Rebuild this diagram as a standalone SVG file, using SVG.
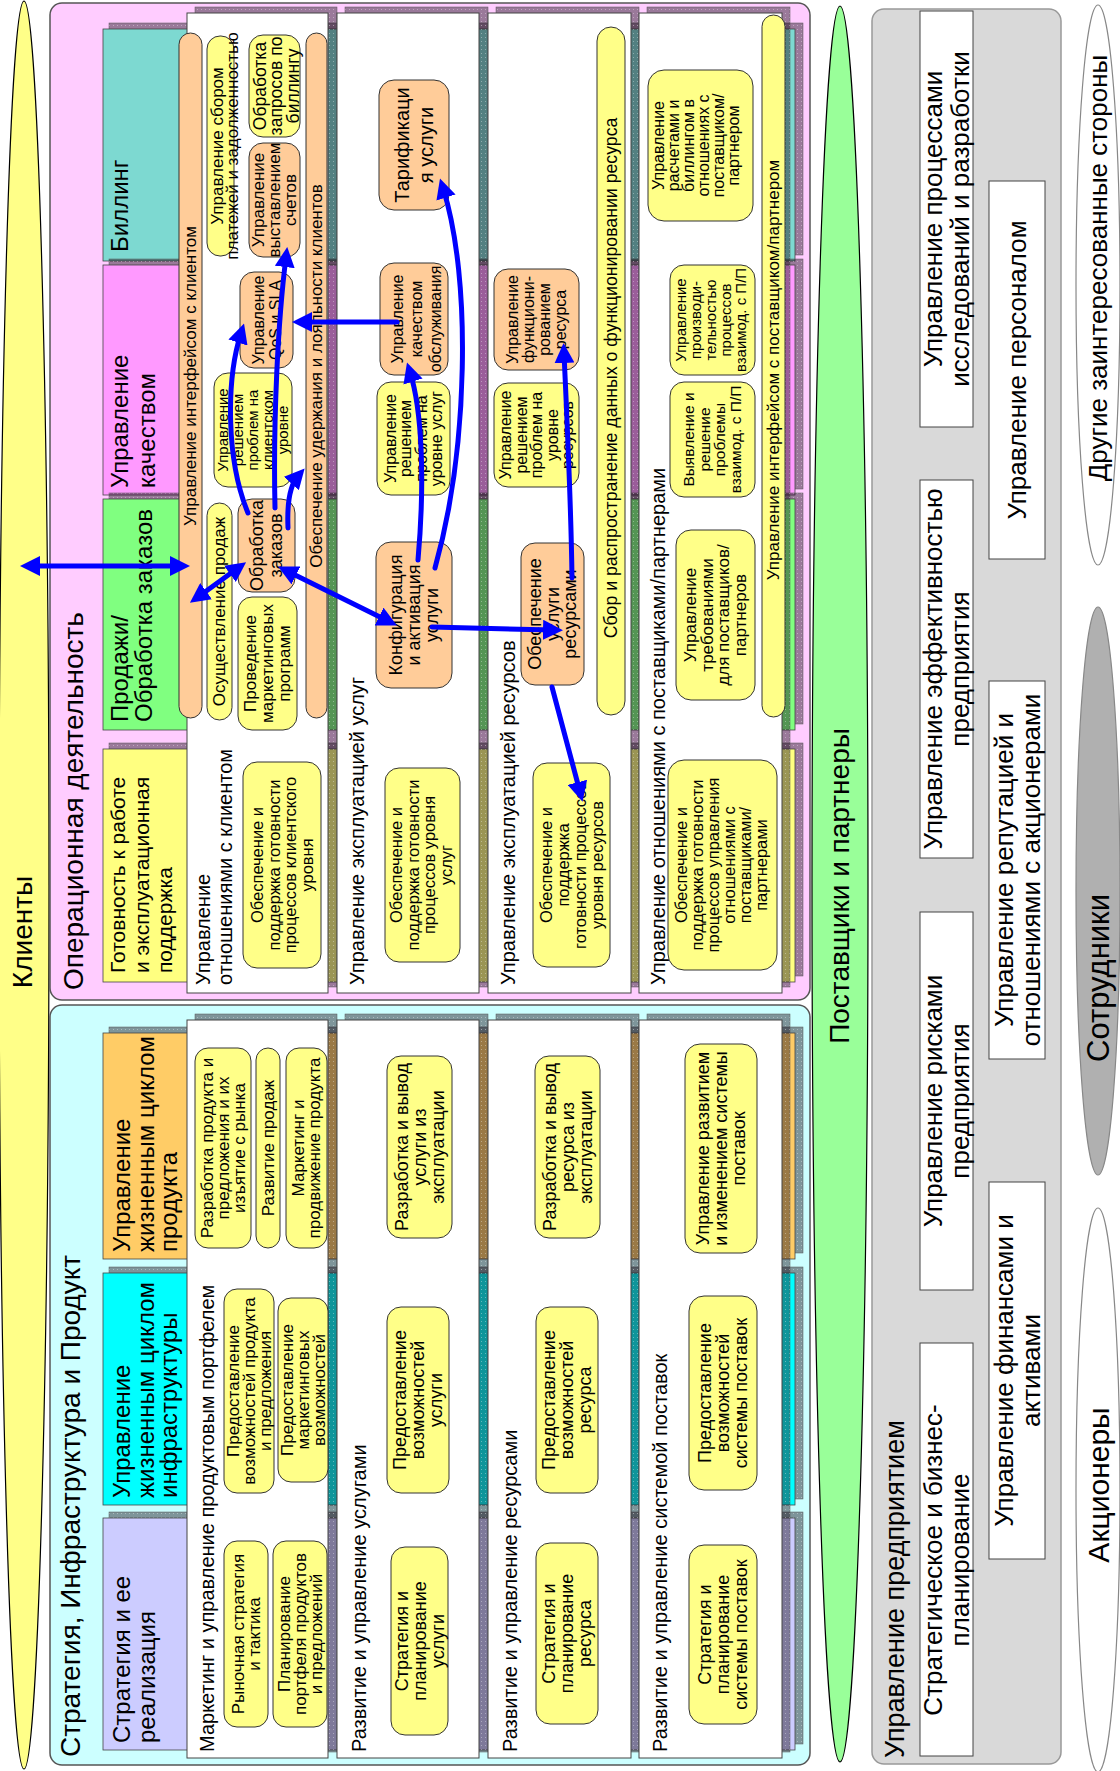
<svg xmlns="http://www.w3.org/2000/svg" width="1120" height="1771" viewBox="0 0 1120 1771">
<style>
.t{font-family:"Liberation Sans",Arial,sans-serif;fill:#000}
.m{text-anchor:middle}
.y{fill:#ffff88;stroke:#333;stroke-width:1}
.o{fill:#ffcc99;stroke:#333;stroke-width:1}
.col{fill:#fff;stroke:#444;stroke-width:1}
.sh{fill:url(#hatch);stroke:#555;stroke-width:.5}
.band{stroke:#444;stroke-width:.8}
.eb{fill:#fff;stroke:#444;stroke-width:1}
.arr{fill:none;stroke:#0000ff;stroke-width:5;stroke-linecap:round;marker-end:url(#ah)}
.both{marker-start:url(#ah)}
</style>
<defs>
<pattern id="hatch" width="4" height="4" patternUnits="userSpaceOnUse">
<rect width="4" height="4" fill="#1e141e" fill-opacity="0.45"/>
<rect x="1" y="1" width="1" height="1" fill="#fff" fill-opacity="0.35"/>
</pattern>
<marker id="ah" viewBox="0 0 20 20" refX="10" refY="10" markerWidth="20" markerHeight="20" markerUnits="userSpaceOnUse" orient="auto-start-reverse">
<path d="M0,0 L20,10 L0,20 z" fill="#0000ff"/>
</marker>
</defs>

<!-- outer actors -->
<g id="clients">
<ellipse cx="24" cy="885" rx="25" ry="884" fill="#ffff88" stroke="#000" stroke-width="1.2"/>
<text class="t m" font-size="28" transform="translate(22,932) rotate(-90)" dy="0.35em">Клиенты</text>
</g>
<g id="suppliers">
<ellipse cx="840" cy="884" rx="28" ry="878" fill="#99ff99" stroke="#000" stroke-width="1.2"/>
<text class="t m" font-size="28" transform="translate(839,886) rotate(-90)" dy="0.35em">Поставщики и партнеры</text>
</g>

<!-- operations area -->
<g id="operations">
<rect x="50" y="3" width="760" height="997" rx="12" fill="#ffccff" stroke="#555" stroke-width="1.5"/>
<text class="t" font-size="28" transform="translate(83,990) rotate(-90)">Операционная деятельность</text>

<g id="band-billing">
<rect class="sh" x="109" y="23" width="694" height="232"/>
<rect class="band" x="103" y="29" width="692" height="232" fill="#7dd9d1"/>
<text class="t" font-size="24" transform="translate(128.4,252) rotate(-90)">Биллинг</text>
</g>
<g id="band-assurance">
<rect class="sh" x="109" y="259" width="694" height="230"/>
<rect class="band" x="103" y="265" width="692" height="230" fill="#ff99ff"/>
<text class="t" font-size="24" transform="translate(128.4,488) rotate(-90)">Управление</text>
<text class="t" font-size="24" transform="translate(155.4,488) rotate(-90)">качеством</text>
</g>
<g id="band-fulfillment">
<rect class="sh" x="109" y="493" width="694" height="231"/>
<rect class="band" x="103" y="499" width="692" height="231" fill="#80ff80"/>
<text class="t" font-size="24" transform="translate(128.4,722) rotate(-90)">Продажи/</text>
<text class="t" font-size="24" transform="translate(152.4,722) rotate(-90)">Обработка заказов</text>
</g>
<g id="band-readiness">
<rect class="sh" x="109" y="743" width="694" height="233"/>
<rect class="band" x="103" y="749" width="692" height="233" fill="#ffff80"/>
<text class="t" font-size="21" transform="translate(125.4,973) rotate(-90)">Готовность к работе</text>
<text class="t" font-size="21" transform="translate(149.4,973) rotate(-90)">и эксплуатационная</text>
<text class="t" font-size="21" transform="translate(172.4,973) rotate(-90)">поддержка</text>
</g>

<!-- layer columns -->
<rect class="sh" x="195" y="7" width="142" height="980"/>
<rect class="col" x="187" y="13" width="141" height="980"/>
<rect class="sh" x="345" y="7" width="143" height="980"/>
<rect class="col" x="337" y="13" width="142" height="980"/>
<rect class="sh" x="496" y="7" width="143" height="980"/>
<rect class="col" x="488" y="13" width="143" height="980"/>
<rect class="sh" x="647" y="7" width="143" height="980"/>
<rect class="col" x="639" y="13" width="143" height="980"/>

<!-- customer layer -->
<text class="t" font-size="20" transform="translate(210,985) rotate(-90)">Управление</text>
<text class="t" font-size="20" transform="translate(232,985) rotate(-90)">отношениями с клиентом</text>
<g id="cust-interface">
<rect class="o" x="179" y="33" width="23" height="685" rx="11.5"/>
<text class="t m" font-size="17" transform="translate(190.5,376) rotate(-90)" y="5.95">Управление интерфейсом с клиентом</text>
</g>
<g id="cust-retention">
<rect class="o" x="306" y="33" width="21" height="685" rx="10.5"/>
<text class="t m" font-size="17" transform="translate(316.5,376) rotate(-90)" y="5.95">Обеспечение удержания и лояльности клиентов</text>
</g>
<g id="cust-collections">
<rect class="y" x="207" y="36" width="27" height="220" rx="13"/>
<text class="t m" font-size="17" transform="translate(224.5,146) rotate(-90)"><tspan x="0" y="-1.55">Управление сбором</tspan><tspan x="0" y="13.45">платежей и задолженностью</tspan></text>
</g>
<g id="cust-bill-inquiry">
<rect class="y" x="249" y="35" width="51" height="102" rx="14"/>
<text class="t m" font-size="17.5" transform="translate(276,86) rotate(-90)"><tspan x="0" y="-10.4">Обработка</tspan><tspan x="0" y="6.1">запросов по</tspan><tspan x="0" y="22.6">биллингу</tspan></text>
</g>
<g id="cust-invoicing">
<rect class="o" x="249" y="143" width="51" height="114" rx="14"/>
<text class="t m" font-size="17" transform="translate(274,200) rotate(-90)"><tspan x="0" y="-10.05">Управление</tspan><tspan x="0" y="5.95">выставлением</tspan><tspan x="0" y="21.95">счетов</tspan></text>
</g>
<g id="cust-qos">
<rect class="o" x="240" y="272" width="53" height="96" rx="14"/>
<text class="t m" font-size="16" transform="translate(266.5,320) rotate(-90)"><tspan x="0" y="-2.9">Управление</tspan><tspan x="0" y="14.1">QoS и SLA</tspan></text>
</g>
<g id="cust-problem">
<rect class="y" x="214" y="373" width="78" height="114" rx="14"/>
<text class="t m" font-size="15" transform="translate(253,430) rotate(-90)"><tspan x="0" y="-24.75">Управление</tspan><tspan x="0" y="-9.75">решением</tspan><tspan x="0" y="5.25">проблем на</tspan><tspan x="0" y="20.25">клиентском</tspan><tspan x="0" y="35.25">уровне</tspan></text>
</g>
<g id="cust-selling">
<rect class="y" x="207" y="503" width="25" height="217" rx="12.5"/>
<text class="t m" font-size="17" transform="translate(219.5,611.5) rotate(-90)" y="5.95">Осуществление продаж</text>
</g>
<g id="cust-order">
<rect class="o" x="238" y="499" width="57" height="93" rx="14"/>
<text class="t m" font-size="18" transform="translate(266.5,545.5) rotate(-90)"><tspan x="0" y="-3.2">Обработка</tspan><tspan x="0" y="15.8">заказов</tspan></text>
</g>
<g id="cust-marketing">
<rect class="y" x="238" y="597" width="59" height="133" rx="14"/>
<text class="t m" font-size="17" transform="translate(267.5,663.5) rotate(-90)"><tspan x="0" y="-11.05">Проведение</tspan><tspan x="0" y="5.95">маркетинговых</tspan><tspan x="0" y="22.95">программ</tspan></text>
</g>
<g id="cust-readiness">
<rect class="y" x="243" y="762" width="78" height="206" rx="14"/>
<text class="t m" font-size="16.5" transform="translate(282,865) rotate(-90)"><tspan x="0" y="-18.97">Обеспечение и</tspan><tspan x="0" y="-2.47">поддержка готовности</tspan><tspan x="0" y="14.03">процессов клиентского</tspan><tspan x="0" y="30.53">уровня</tspan></text>
</g>

<!-- service layer -->
<text class="t" font-size="20" transform="translate(364,985) rotate(-90)">Управление эксплуатацией услуг</text>
<g id="svc-rating">
<rect class="o" x="379" y="80" width="70" height="130" rx="15"/>
<text class="t m" font-size="20" transform="translate(414,145) rotate(-90)"><tspan x="0" y="-5">Тарификаци</tspan><tspan x="0" y="19">я услуги</tspan></text>
</g>
<g id="svc-quality">
<rect class="o" x="380" y="263" width="68" height="112" rx="14"/>
<text class="t m" font-size="16" transform="translate(416,319) rotate(-90)"><tspan x="0" y="-13.4">Управление</tspan><tspan x="0" y="5.6">качеством</tspan><tspan x="0" y="24.6">обслуживания</tspan></text>
</g>
<g id="svc-problem">
<rect class="y" x="377" y="382" width="73" height="113" rx="14"/>
<text class="t m" font-size="16" transform="translate(413.5,438.5) rotate(-90)"><tspan x="0" y="-17.65">Управление</tspan><tspan x="0" y="-2.15">решением</tspan><tspan x="0" y="13.35">проблем на</tspan><tspan x="0" y="28.85">уровне услуг</tspan></text>
</g>
<g id="svc-config">
<rect class="o" x="376" y="542" width="76" height="146" rx="15"/>
<text class="t m" font-size="18" transform="translate(414,615) rotate(-90)"><tspan x="0" y="-11.7">Конфигурация</tspan><tspan x="0" y="6.3">и активация</tspan><tspan x="0" y="24.3">услуги</tspan></text>
</g>
<g id="svc-readiness">
<rect class="y" x="385" y="768" width="75" height="194" rx="14"/>
<text class="t m" font-size="16.5" transform="translate(421,865) rotate(-90)"><tspan x="0" y="-18.97">Обеспечение и</tspan><tspan x="0" y="-2.47">поддержка готовности</tspan><tspan x="0" y="14.03">процессов уровня</tspan><tspan x="0" y="30.53">услуг</tspan></text>
</g>

<!-- resource layer -->
<text class="t" font-size="20" transform="translate(515,985) rotate(-90)">Управление эксплуатацией ресурсов</text>
<g id="res-data">
<rect class="y" x="597" y="27" width="28" height="688" rx="14"/>
<text class="t m" font-size="17.7" transform="translate(611,378) rotate(-90)" y="6.2">Сбор и распространение данных о функционировании ресурса</text>
</g>
<g id="res-performance">
<rect class="o" x="494" y="269" width="85" height="101" rx="14"/>
<text class="t m" font-size="16" transform="translate(536,319.5) rotate(-90)"><tspan x="0" y="-18.4">Управление</tspan><tspan x="0" y="-2.4">функциони-</tspan><tspan x="0" y="13.6">рованием</tspan><tspan x="0" y="29.6">ресурса</tspan></text>
</g>
<g id="res-problem">
<rect class="y" x="494" y="383" width="85" height="104" rx="14"/>
<text class="t m" font-size="16" transform="translate(536.5,435) rotate(-90)"><tspan x="0" y="-25.4">Управление</tspan><tspan x="0" y="-9.9">решением</tspan><tspan x="0" y="5.6">проблем на</tspan><tspan x="0" y="21.1">уровне</tspan><tspan x="0" y="36.6">ресурсов</tspan></text>
</g>
<g id="res-provisioning">
<rect class="o" x="521" y="543" width="63" height="142" rx="14"/>
<text class="t m" font-size="18" transform="translate(552.5,614) rotate(-90)"><tspan x="0" y="-11.2">Обеспечение</tspan><tspan x="0" y="6.3">услуги</tspan><tspan x="0" y="23.8">ресурсами</tspan></text>
</g>
<g id="res-readiness">
<rect class="y" x="533" y="763" width="77" height="204" rx="14"/>
<text class="t m" font-size="16.5" transform="translate(571.5,865) rotate(-90)"><tspan x="0" y="-19.72">Обеспечение и</tspan><tspan x="0" y="-2.72">поддержка</tspan><tspan x="0" y="14.28">готовности процессов</tspan><tspan x="0" y="31.28">уровня ресурсов</tspan></text>
</g>

<!-- supplier/partner layer -->
<text class="t" font-size="20" transform="translate(665,985) rotate(-90)">Управление отношениями с поставщиками/партнерами</text>
<g id="sp-interface">
<rect class="y" x="762" y="15" width="23" height="702" rx="11.5"/>
<text class="t m" font-size="17" transform="translate(773.5,370) rotate(-90)" y="5.95">Управление интерфейсом с поставщиком/партнером</text>
</g>
<g id="sp-settlement">
<rect class="y" x="648" y="70" width="105" height="151" rx="16"/>
<text class="t m" font-size="16" transform="translate(696,145.5) rotate(-90)"><tspan x="0" y="-31.9">Управление</tspan><tspan x="0" y="-16.9">расчетами и</tspan><tspan x="0" y="-1.9">биллингом в</tspan><tspan x="0" y="13.1">отношениях с</tspan><tspan x="0" y="28.1">поставщиком/</tspan><tspan x="0" y="43.1">партнером</tspan></text>
</g>
<g id="sp-performance">
<rect class="y" x="670" y="265" width="85" height="110" rx="14"/>
<text class="t m" font-size="15" transform="translate(711,320) rotate(-90)"><tspan x="0" y="-24.75">Управление</tspan><tspan x="0" y="-9.75">производи-</tspan><tspan x="0" y="5.25">тельностью</tspan><tspan x="0" y="20.25">процессов</tspan><tspan x="0" y="35.25">взаимод. с П/П</tspan></text>
</g>
<g id="sp-problem">
<rect class="y" x="670" y="382" width="85" height="115" rx="14"/>
<text class="t m" font-size="15.5" transform="translate(712,439.5) rotate(-90)"><tspan x="0" y="-17.85">Выявление и</tspan><tspan x="0" y="-2.35">решение</tspan><tspan x="0" y="13.15">проблемы</tspan><tspan x="0" y="28.65">взаимод. с П/П</tspan></text>
</g>
<g id="sp-requirements">
<rect class="y" x="676" y="530" width="79" height="170" rx="15"/>
<text class="t m" font-size="17" transform="translate(715,615) rotate(-90)"><tspan x="0" y="-18.8">Управление</tspan><tspan x="0" y="-2.3">требованиями</tspan><tspan x="0" y="14.2">для поставщиков/</tspan><tspan x="0" y="30.7">партнеров</tspan></text>
</g>
<g id="sp-readiness">
<rect class="y" x="668" y="760" width="109" height="210" rx="16"/>
<text class="t m" font-size="16.5" transform="translate(721,865) rotate(-90)"><tspan x="0" y="-34.22">Обеспечение и</tspan><tspan x="0" y="-18.22">поддержка готовности</tspan><tspan x="0" y="-2.22">процессов управления</tspan><tspan x="0" y="13.78">отношениями с</tspan><tspan x="0" y="29.78">поставщиками/</tspan><tspan x="0" y="45.78">партнерами</tspan></text>
</g>
</g>

<!-- strategy, infrastructure and product area -->
<g id="sip">
<rect x="50" y="1005" width="760" height="760" rx="12" fill="#ccffff" stroke="#555" stroke-width="1.5"/>
<text class="t" font-size="28" transform="translate(80,1757) rotate(-90)">Стратегия, Инфраструктура и Продукт</text>

<g id="band-product">
<rect class="sh" x="109" y="1027" width="694" height="226"/>
<rect class="band" x="103" y="1033" width="692" height="226" fill="#ffcc66"/>
<text class="t" font-size="24" transform="translate(130.4,1252) rotate(-90)">Управление</text>
<text class="t" font-size="24" transform="translate(153.9,1252) rotate(-90)">жизненным циклом</text>
<text class="t" font-size="24" transform="translate(177.4,1252) rotate(-90)">продукта</text>
</g>
<g id="band-infrastructure">
<rect class="sh" x="109" y="1267" width="694" height="232"/>
<rect class="band" x="103" y="1273" width="692" height="232" fill="#00ffff"/>
<text class="t" font-size="24" transform="translate(130.4,1498) rotate(-90)">Управление</text>
<text class="t" font-size="24" transform="translate(153.9,1498) rotate(-90)">жизненным циклом</text>
<text class="t" font-size="24" transform="translate(177.4,1498) rotate(-90)">инфраструктуры</text>
</g>
<g id="band-strategy">
<rect class="sh" x="109" y="1512" width="694" height="232"/>
<rect class="band" x="103" y="1518" width="692" height="232" fill="#ccccff"/>
<text class="t" font-size="24" transform="translate(130.4,1743) rotate(-90)">Стратегия и ее</text>
<text class="t" font-size="24" transform="translate(155.4,1743) rotate(-90)">реализация</text>
</g>

<rect class="sh" x="195" y="1014" width="142" height="738"/>
<rect class="col" x="187" y="1020" width="141" height="738"/>
<rect class="sh" x="345" y="1014" width="143" height="738"/>
<rect class="col" x="337" y="1020" width="142" height="738"/>
<rect class="sh" x="496" y="1014" width="143" height="738"/>
<rect class="col" x="488" y="1020" width="143" height="738"/>
<rect class="sh" x="647" y="1014" width="143" height="738"/>
<rect class="col" x="639" y="1020" width="143" height="738"/>

<!-- marketing & offer -->
<text class="t" font-size="20" transform="translate(214,1752) rotate(-90)">Маркетинг и управление продуктовым портфелем</text>
<g id="mk-lifecycle">
<rect class="y" x="195" y="1048" width="56" height="200" rx="13"/>
<text class="t m" font-size="17" transform="translate(223,1148) rotate(-90)"><tspan x="0" y="-10.05">Разработка продукта и</tspan><tspan x="0" y="5.95">предложения и их</tspan><tspan x="0" y="21.95">изъятие с рынка</tspan></text>
</g>
<g id="mk-sales-dev">
<rect class="y" x="256" y="1048" width="24" height="200" rx="12"/>
<text class="t m" font-size="17" transform="translate(268,1148) rotate(-90)" y="5.95">Развитие продаж</text>
</g>
<g id="mk-promotion">
<rect class="y" x="286" y="1048" width="41" height="200" rx="13"/>
<text class="t m" font-size="17" transform="translate(306.5,1148) rotate(-90)"><tspan x="0" y="-2.05">Маркетинг и</tspan><tspan x="0" y="13.95">продвижение продукта</tspan></text>
</g>
<g id="mk-capability">
<rect class="y" x="224" y="1289" width="50" height="204" rx="13"/>
<text class="t m" font-size="17" transform="translate(249,1391) rotate(-90)"><tspan x="0" y="-10.05">Предоставление</tspan><tspan x="0" y="5.95">возможностей продукта</tspan><tspan x="0" y="21.95">и предложения</tspan></text>
</g>
<g id="mk-mkt-capability">
<rect class="y" x="278" y="1298" width="50" height="184" rx="13"/>
<text class="t m" font-size="17" transform="translate(303,1390) rotate(-90)"><tspan x="0" y="-10.05">Предоставление</tspan><tspan x="0" y="5.95">маркетинговых</tspan><tspan x="0" y="21.95">возможностей</tspan></text>
</g>
<g id="mk-strategy">
<rect class="y" x="224" y="1541" width="44" height="186" rx="13"/>
<text class="t m" font-size="17" transform="translate(246,1634) rotate(-90)"><tspan x="0" y="-2.05">Рыночная стратегия</tspan><tspan x="0" y="13.95">и тактика</tspan></text>
</g>
<g id="mk-portfolio">
<rect class="y" x="273" y="1541" width="54" height="186" rx="13"/>
<text class="t m" font-size="17" transform="translate(300,1634) rotate(-90)"><tspan x="0" y="-10.05">Планирование</tspan><tspan x="0" y="5.95">портфеля продуктов</tspan><tspan x="0" y="21.95">и предложений</tspan></text>
</g>

<!-- service development -->
<text class="t" font-size="20" transform="translate(366,1752) rotate(-90)">Развитие и управление услугами</text>
<g id="sd-development">
<rect class="y" x="387" y="1056" width="65" height="182" rx="14"/>
<text class="t m" font-size="18" transform="translate(419.5,1147) rotate(-90)"><tspan x="0" y="-11.7">Разработка и вывод</tspan><tspan x="0" y="6.3">услуги из</tspan><tspan x="0" y="24.3">эксплуатации</tspan></text>
</g>
<g id="sd-capability">
<rect class="y" x="387" y="1307" width="62" height="186" rx="14"/>
<text class="t m" font-size="18" transform="translate(418,1400) rotate(-90)"><tspan x="0" y="-11.7">Предоставление</tspan><tspan x="0" y="6.3">возможностей</tspan><tspan x="0" y="24.3">услуги</tspan></text>
</g>
<g id="sd-strategy">
<rect class="y" x="391" y="1547" width="57" height="188" rx="14"/>
<text class="t m" font-size="18" transform="translate(419.5,1641) rotate(-90)"><tspan x="0" y="-11.7">Стратегия и</tspan><tspan x="0" y="6.3">планирование</tspan><tspan x="0" y="24.3">услуги</tspan></text>
</g>

<!-- resource development -->
<text class="t" font-size="20" transform="translate(517,1752) rotate(-90)">Развитие и управление ресурсами</text>
<g id="rd-development">
<rect class="y" x="535" y="1056" width="65" height="182" rx="14"/>
<text class="t m" font-size="18" transform="translate(567.5,1147) rotate(-90)"><tspan x="0" y="-11.7">Разработка и вывод</tspan><tspan x="0" y="6.3">ресурса из</tspan><tspan x="0" y="24.3">эксплуатации</tspan></text>
</g>
<g id="rd-capability">
<rect class="y" x="536" y="1307" width="62" height="186" rx="14"/>
<text class="t m" font-size="18" transform="translate(567,1400) rotate(-90)"><tspan x="0" y="-11.7">Предоставление</tspan><tspan x="0" y="6.3">возможностей</tspan><tspan x="0" y="24.3">ресурса</tspan></text>
</g>
<g id="rd-strategy">
<rect class="y" x="536" y="1543" width="62" height="181" rx="14"/>
<text class="t m" font-size="18" transform="translate(567,1633.5) rotate(-90)"><tspan x="0" y="-11.7">Стратегия и</tspan><tspan x="0" y="6.3">планирование</tspan><tspan x="0" y="24.3">ресурса</tspan></text>
</g>

<!-- supply chain development -->
<text class="t" font-size="20" transform="translate(667,1752) rotate(-90)">Развитие и управление системой поставок</text>
<g id="sc-change">
<rect class="y" x="685" y="1044" width="72" height="209" rx="15"/>
<text class="t m" font-size="18" transform="translate(721,1148.5) rotate(-90)"><tspan x="0" y="-11.7">Управление развитием</tspan><tspan x="0" y="6.3">и изменением системы</tspan><tspan x="0" y="24.3">поставок</tspan></text>
</g>
<g id="sc-capability">
<rect class="y" x="689" y="1296" width="68" height="194" rx="15"/>
<text class="t m" font-size="18" transform="translate(723,1393) rotate(-90)"><tspan x="0" y="-11.7">Предоставление</tspan><tspan x="0" y="6.3">возможностей</tspan><tspan x="0" y="24.3">системы поставок</tspan></text>
</g>
<g id="sc-strategy">
<rect class="y" x="689" y="1545" width="68" height="179" rx="15"/>
<text class="t m" font-size="18" transform="translate(723,1634.5) rotate(-90)"><tspan x="0" y="-11.7">Стратегия и</tspan><tspan x="0" y="6.3">планирование</tspan><tspan x="0" y="24.3">системы поставок</tspan></text>
</g>
</g>

<!-- enterprise management -->
<g id="enterprise">
<rect x="872" y="9" width="189" height="1755" rx="12" fill="#d9d9d9" stroke="#999" stroke-width="1.5"/>
<text class="t" font-size="27" transform="translate(904,1758) rotate(-90)">Управление предприятием</text>
<g id="ent-rnd">
<rect class="eb" x="920" y="11" width="53" height="416"/>
<text class="t m" font-size="26" transform="translate(946.5,219) rotate(-90)"><tspan x="0" y="-4.4">Управление процессами</tspan><tspan x="0" y="22.6">исследований и разработки</tspan></text>
</g>
<g id="ent-effectiveness">
<rect class="eb" x="920" y="480" width="53" height="378"/>
<text class="t m" font-size="26" transform="translate(946.5,669) rotate(-90)"><tspan x="0" y="-4.4">Управление эффективностью</tspan><tspan x="0" y="22.6">предприятия</tspan></text>
</g>
<g id="ent-risk">
<rect class="eb" x="920" y="912" width="53" height="378"/>
<text class="t m" font-size="26" transform="translate(946.5,1101) rotate(-90)"><tspan x="0" y="-4.4">Управление рисками</tspan><tspan x="0" y="22.6">предприятия</tspan></text>
</g>
<g id="ent-planning">
<rect class="eb" x="920" y="1343" width="53" height="413"/>
<text class="t m" font-size="26" transform="translate(946.5,1560) rotate(-90)"><tspan x="0" y="-4.4">Стратегическое и бизнес-</tspan><tspan x="0" y="22.6">планирование</tspan></text>
</g>
<g id="ent-hr">
<rect class="eb" x="989" y="181" width="56" height="378"/>
<text class="t m" font-size="26" transform="translate(1017,370) rotate(-90)" y="9.1">Управление персоналом</text>
</g>
<g id="ent-reputation">
<rect class="eb" x="989" y="681" width="56" height="378"/>
<text class="t m" font-size="26" transform="translate(1017,870) rotate(-90)"><tspan x="0" y="-4.4">Управление репутацией и</tspan><tspan x="0" y="22.6">отношениями с акционерами</tspan></text>
</g>
<g id="ent-finance">
<rect class="eb" x="989" y="1182" width="56" height="377"/>
<text class="t m" font-size="26" transform="translate(1017,1370.5) rotate(-90)"><tspan x="0" y="-4.4">Управление финансами и</tspan><tspan x="0" y="22.6">активами</tspan></text>
</g>
</g>

<g id="stakeholders">
<ellipse cx="1098" cy="285" rx="22" ry="280" fill="#fff" stroke="#888" stroke-width="1.2"/>
<text class="t m" font-size="26" transform="translate(1098,268) rotate(-90)" dy="0.35em">Другие заинтересованные стороны</text>
</g>
<g id="employees">
<ellipse cx="1098" cy="891" rx="22" ry="284" fill="#b0b0b0" stroke="#888" stroke-width="1.2"/>
<text class="t m" font-size="31" transform="translate(1098,978) rotate(-90)" dy="0.35em">Сотрудники</text>
</g>
<g id="shareholders">
<ellipse cx="1098" cy="1490" rx="22" ry="282" fill="#fff" stroke="#888" stroke-width="1.2"/>
<text class="t m" font-size="30" transform="translate(1098,1485) rotate(-90)" dy="0.35em">Акционеры</text>
</g>

<!-- process flows -->
<g id="connectors">
<path class="arr both" d="M30,566 L180,566"/>
<path class="arr both" d="M198,597 L238,568"/>
<path class="arr both" d="M287,571 L388,621"/>
<path class="arr" d="M432,627 L553,630"/>
<path class="arr" d="M572,578 C571,500 567,420 564,353"/>
<path class="arr" d="M552,687 L580,792"/>
<path class="arr" d="M418,560 C425,480 422,410 410,372"/>
<path class="arr" d="M435,568 C468,450 472,280 443,188"/>
<path class="arr" d="M397,322 L302,322"/>
<path class="arr" d="M275,508 C273,420 278,320 286,257"/>
<path class="arr" d="M248,513 C226,460 226,380 241,333"/>
<path class="arr" d="M288,528 C287,505 290,485 298,476"/>
</g>
</svg>
